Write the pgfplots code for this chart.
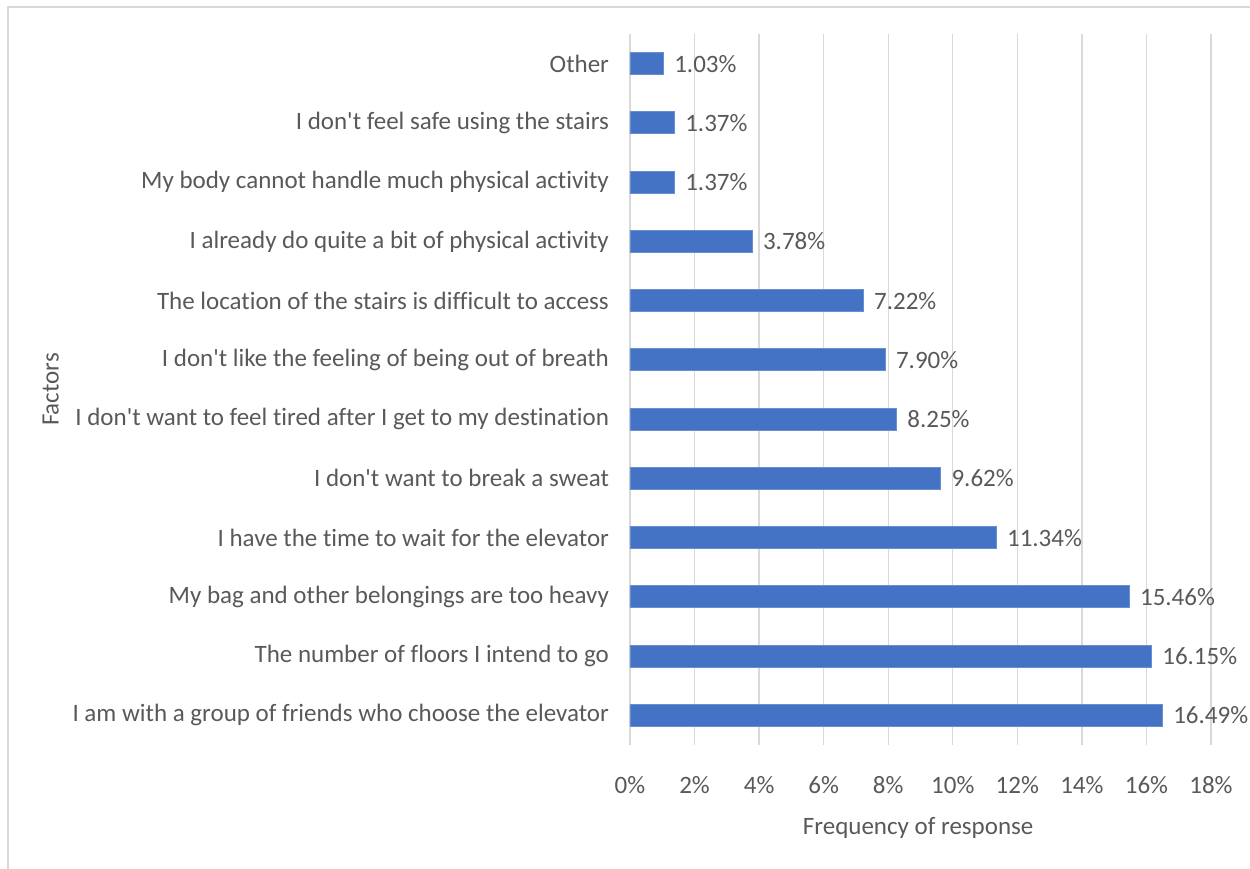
\documentclass[border=0pt]{standalone}
\usepackage{pgfplots}
\pgfplotsset{compat=1.18}
\usepackage{pgfplotstable}
\usepackage{fontspec}
\setmainfont{Carlito}[Ligatures={NoCommon}]
\newcommand{\ap}{\textquotesingle}
\definecolor{barblue}{HTML}{4472C4}
\definecolor{gridgray}{HTML}{D9D9D9}
\definecolor{txt}{HTML}{595959}
\pgfplotstableread[col sep=comma]{
y,val,lab
0,16.49,16.49\%
1,16.15,16.15\%
2,15.46,15.46\%
3,11.34,11.34\%
4,9.62,9.62\%
5,8.25,8.25\%
6,7.90,7.90\%
7,7.22,7.22\%
8,3.78,3.78\%
9,1.37,1.37\%
10,1.37,1.37\%
11,1.03,1.03\%
}\datatable
\begin{document}
\begin{tikzpicture}[font=\fontsize{12.5}{15}\selectfont]
\path[use as bounding box] (0pt,0pt) rectangle (625pt,434.5pt);
\draw[gridgray, line width=1.2pt] (4pt,0pt) -- (4pt,431pt) -- (625pt,431pt);
\begin{axis}[
  at={(315pt,62pt)}, anchor=south west,
  scale only axis, width=290.5pt, height=355.5pt,
  xmin=0, xmax=18, ymin=-0.5, ymax=11.5,
  xbar, bar width=11pt,
  axis line style={draw=none},
  xmajorgrids, grid style={gridgray, line width=0.7pt},
  xtick={0,2,...,18},
  xticklabels={0\%,2\%,4\%,6\%,8\%,10\%,12\%,14\%,16\%,18\%},
  ytick={0,...,11},
  yticklabels={I am with a group of friends who choose the elevator,
    The number of floors I intend to go,
    My bag and other belongings are too heavy,
    I have the time to wait for the elevator,
    I don\ap t want to break a sweat,
    I don\ap t want to feel tired after I get to my destination,
    I don\ap t like the feeling of being out of breath,
    The location of the stairs is difficult to access,
    I already do quite a bit of physical activity,
    My body cannot handle much physical activity,
    I don\ap t feel safe using the stairs,
    Other},
  major tick length=0pt,
  xticklabel style={text=txt, yshift=-12pt},
  yticklabel style={text=txt, xshift=-7pt},
  tick label style={font=\fontsize{12.5}{15}\selectfont},
  xlabel={Frequency of response},
  ylabel={Factors},
  every axis x label/.style={at={(axis description cs:0.496,-0.1167)}, anchor=center, text=txt},
  every axis y label/.style={at={(axis description cs:-0.997,0.5)}, anchor=center, rotate=90, text=txt},
  nodes near coords,
  point meta=explicit symbolic,
  every node near coord/.append style={text=txt, anchor=west, xshift=2pt, font=\fontsize{12.5}{15}\selectfont},
  clip=false,
]
\addplot[fill=barblue, draw=barblue!80!white] table[x=val, y=y, meta=lab] {\datatable};
\end{axis}
\end{tikzpicture}
\end{document}
